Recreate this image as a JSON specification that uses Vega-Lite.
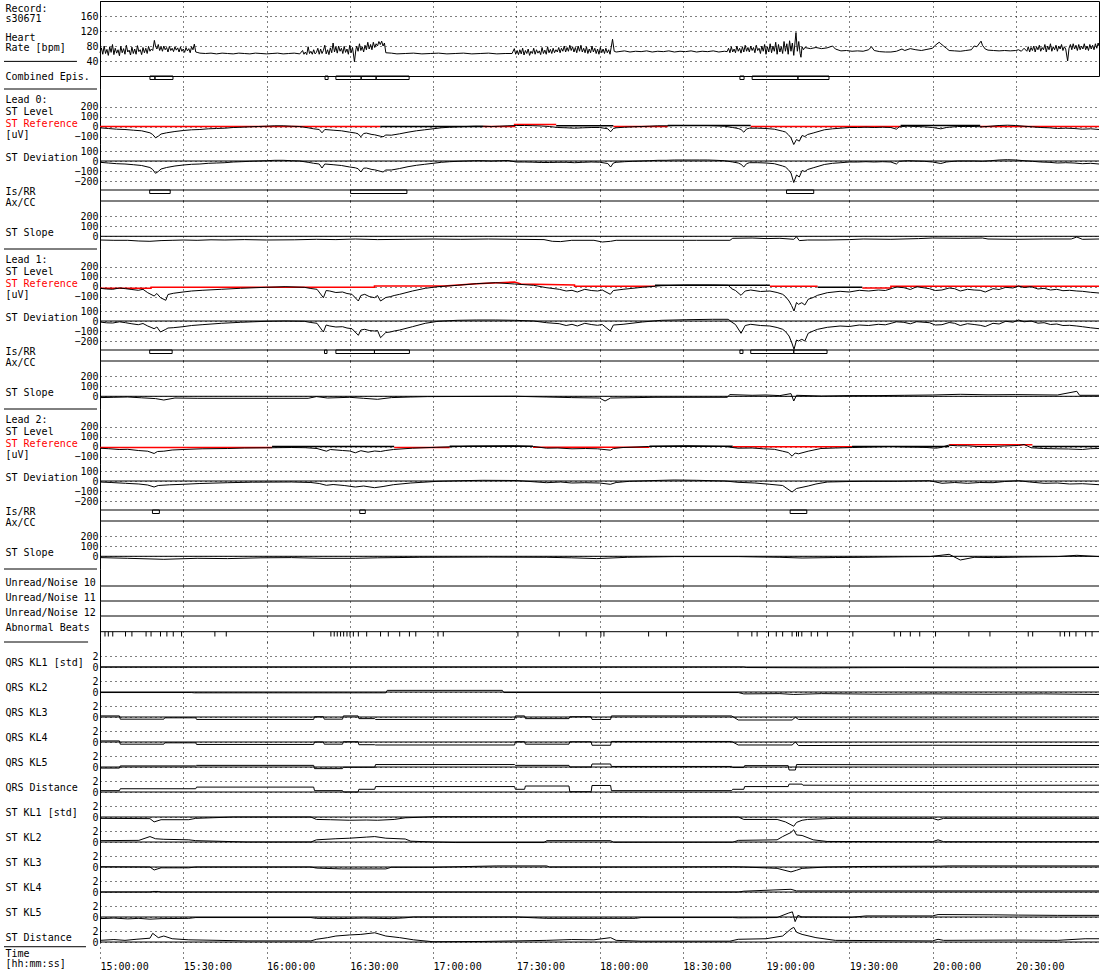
{
"$schema":"https://vega.github.io/schema/vega-lite/v6.json",
"background":"white",
"padding":{"left":3,"top":0,"right":0,"bottom":0},
"spacing":0,
"bounds":"flush",
"datasets":{
"hr":[{"t":0,"v":62},{"t":0.5,"v":75},{"t":1,"v":58},{"t":1.5,"v":80},{"t":2,"v":60},{"t":2.5,"v":71},{"t":3,"v":55},{"t":3.5,"v":78},{"t":4,"v":63},{"t":4.5,"v":84},{"t":5,"v":57},{"t":5.5,"v":74},{"t":6,"v":61},{"t":6.5,"v":70},{"t":7,"v":54},{"t":7.5,"v":79},{"t":8,"v":62},{"t":8.5,"v":73},{"t":9,"v":58},{"t":9.5,"v":82},{"t":10,"v":64},{"t":10.5,"v":69},{"t":11,"v":56},{"t":11.5,"v":77},{"t":12,"v":60},{"t":12.5,"v":72},{"t":13,"v":58},{"t":13.5,"v":81},{"t":14,"v":65},{"t":14.5,"v":70},{"t":15,"v":57},{"t":15.5,"v":76},{"t":16,"v":62},{"t":16.5,"v":74},{"t":17,"v":60},{"t":17.5,"v":79},{"t":18,"v":66},{"t":18.5,"v":72},{"t":19,"v":68},{"t":19.6,"v":95},{"t":20,"v":80},{"t":20.5,"v":72},{"t":21,"v":84},{"t":21.5,"v":68},{"t":22,"v":78},{"t":22.5,"v":66},{"t":23,"v":80},{"t":23.5,"v":70},{"t":24,"v":76},{"t":24.5,"v":64},{"t":25,"v":79},{"t":25.5,"v":68},{"t":26,"v":74},{"t":26.5,"v":65},{"t":27,"v":78},{"t":27.5,"v":69},{"t":28,"v":75},{"t":28.5,"v":64},{"t":29,"v":77},{"t":29.5,"v":66},{"t":30,"v":72},{"t":30.5,"v":63},{"t":31,"v":76},{"t":31.5,"v":67},{"t":32,"v":73},{"t":32.5,"v":62},{"t":33,"v":78},{"t":33.5,"v":70},{"t":34,"v":85},{"t":34.5,"v":64},{"t":35,"v":63},{"t":36,"v":61},{"t":38,"v":60},{"t":40,"v":61},{"t":42,"v":59},{"t":44,"v":61},{"t":46,"v":60},{"t":48,"v":59},{"t":50,"v":61},{"t":52,"v":60},{"t":54,"v":59},{"t":56,"v":61},{"t":58,"v":60},{"t":60,"v":59},{"t":62,"v":60},{"t":64,"v":61},{"t":66,"v":59},{"t":68,"v":60},{"t":70,"v":61},{"t":72,"v":59},{"t":73,"v":68},{"t":73.5,"v":58},{"t":74,"v":64},{"t":74.5,"v":57},{"t":75,"v":78},{"t":75.5,"v":60},{"t":76,"v":66},{"t":76.5,"v":58},{"t":77,"v":70},{"t":77.5,"v":59},{"t":78,"v":63},{"t":78.5,"v":74},{"t":79,"v":58},{"t":79.5,"v":72},{"t":80,"v":60},{"t":80.5,"v":68},{"t":81,"v":82},{"t":81.5,"v":59},{"t":82,"v":70},{"t":82.5,"v":57},{"t":83,"v":75},{"t":83.5,"v":62},{"t":84,"v":88},{"t":84.5,"v":64},{"t":85,"v":78},{"t":85.5,"v":61},{"t":86,"v":80},{"t":86.5,"v":66},{"t":87,"v":74},{"t":87.5,"v":60},{"t":88,"v":79},{"t":88.5,"v":63},{"t":89,"v":72},{"t":89.5,"v":58},{"t":90,"v":82},{"t":90.5,"v":62},{"t":91,"v":76},{"t":91.7,"v":38},{"t":92.2,"v":70},{"t":92.5,"v":80},{"t":93,"v":66},{"t":93.5,"v":86},{"t":94,"v":68},{"t":94.5,"v":78},{"t":95,"v":64},{"t":95.5,"v":82},{"t":96,"v":70},{"t":96.5,"v":90},{"t":97,"v":72},{"t":97.5,"v":84},{"t":98,"v":70},{"t":98.5,"v":90},{"t":99,"v":76},{"t":99.5,"v":86},{"t":100,"v":80},{"t":100.5,"v":92},{"t":101,"v":84},{"t":101.5,"v":93},{"t":102,"v":80},{"t":102.5,"v":88},{"t":103,"v":62},{"t":105,"v":61},{"t":107,"v":59},{"t":110,"v":60},{"t":113,"v":61},{"t":116,"v":59},{"t":119,"v":60},{"t":122,"v":61},{"t":125,"v":59},{"t":128,"v":60},{"t":131,"v":61},{"t":134,"v":59},{"t":137,"v":60},{"t":140,"v":61},{"t":143,"v":59},{"t":146,"v":60},{"t":148.5,"v":60},{"t":149.3,"v":73},{"t":149.8,"v":58},{"t":150.3,"v":68},{"t":150.8,"v":57},{"t":151.3,"v":70},{"t":151.8,"v":59},{"t":152.3,"v":74},{"t":152.8,"v":56},{"t":153.3,"v":68},{"t":153.8,"v":60},{"t":154.3,"v":72},{"t":154.8,"v":55},{"t":155.3,"v":66},{"t":155.8,"v":60},{"t":156.3,"v":74},{"t":156.8,"v":58},{"t":157.3,"v":70},{"t":157.8,"v":61},{"t":158.3,"v":67},{"t":158.8,"v":57},{"t":159.3,"v":76},{"t":159.8,"v":60},{"t":160.3,"v":69},{"t":160.8,"v":58},{"t":161.3,"v":78},{"t":161.8,"v":62},{"t":162.3,"v":71},{"t":162.8,"v":60},{"t":163.3,"v":74},{"t":163.8,"v":62},{"t":164.3,"v":70},{"t":164.8,"v":64},{"t":165.3,"v":76},{"t":165.8,"v":62},{"t":166.3,"v":74},{"t":166.8,"v":66},{"t":167.3,"v":80},{"t":167.8,"v":64},{"t":168.3,"v":76},{"t":168.8,"v":66},{"t":169.3,"v":82},{"t":169.8,"v":68},{"t":170.3,"v":78},{"t":170.8,"v":64},{"t":171.3,"v":76},{"t":171.8,"v":62},{"t":172.3,"v":80},{"t":172.8,"v":66},{"t":173.3,"v":82},{"t":173.8,"v":64},{"t":174.3,"v":74},{"t":174.8,"v":62},{"t":175.3,"v":78},{"t":175.8,"v":60},{"t":176.3,"v":72},{"t":176.8,"v":62},{"t":177.3,"v":80},{"t":177.8,"v":64},{"t":178.3,"v":74},{"t":178.8,"v":60},{"t":179.3,"v":72},{"t":179.8,"v":58},{"t":180.3,"v":76},{"t":180.8,"v":62},{"t":181.3,"v":72},{"t":181.8,"v":60},{"t":182.3,"v":74},{"t":182.8,"v":62},{"t":183.3,"v":70},{"t":183.8,"v":58},{"t":184.7,"v":98},{"t":185.3,"v":66},{"t":186,"v":64},{"t":187,"v":65},{"t":189,"v":67},{"t":191,"v":64},{"t":193,"v":66},{"t":195,"v":65},{"t":197,"v":67},{"t":199,"v":64},{"t":201,"v":66},{"t":203,"v":65},{"t":205,"v":67},{"t":207,"v":64},{"t":209,"v":66},{"t":211,"v":65},{"t":213,"v":67},{"t":215,"v":64},{"t":217,"v":66},{"t":219,"v":65},{"t":221,"v":67},{"t":223,"v":64},{"t":225,"v":66},{"t":226,"v":65},{"t":226.5,"v":74},{"t":227,"v":62},{"t":227.5,"v":78},{"t":228,"v":64},{"t":228.5,"v":72},{"t":229,"v":62},{"t":229.5,"v":80},{"t":230,"v":66},{"t":230.5,"v":74},{"t":231,"v":61},{"t":231.5,"v":78},{"t":232,"v":64},{"t":232.5,"v":82},{"t":233,"v":66},{"t":233.5,"v":76},{"t":234,"v":64},{"t":234.5,"v":80},{"t":235,"v":68},{"t":235.5,"v":76},{"t":236,"v":62},{"t":236.5,"v":82},{"t":237,"v":68},{"t":237.5,"v":74},{"t":238,"v":60},{"t":238.5,"v":80},{"t":239,"v":66},{"t":239.5,"v":84},{"t":240,"v":58},{"t":240.5,"v":78},{"t":241,"v":64},{"t":241.5,"v":86},{"t":242,"v":62},{"t":242.5,"v":80},{"t":243,"v":66},{"t":243.5,"v":90},{"t":244,"v":58},{"t":244.5,"v":84},{"t":245,"v":64},{"t":245.5,"v":78},{"t":246,"v":60},{"t":246.5,"v":92},{"t":247,"v":66},{"t":247.5,"v":86},{"t":248,"v":58},{"t":248.5,"v":94},{"t":249,"v":66},{"t":249.5,"v":88},{"t":250,"v":55},{"t":250.8,"v":116},{"t":251.3,"v":66},{"t":251.8,"v":92},{"t":252.3,"v":60},{"t":252.6,"v":50},{"t":253,"v":78},{"t":253.5,"v":70},{"t":254,"v":76},{"t":256,"v":73},{"t":258,"v":76},{"t":260,"v":73},{"t":262,"v":75},{"t":264,"v":80},{"t":265,"v":72},{"t":267,"v":67},{"t":269,"v":68},{"t":271,"v":66},{"t":273,"v":67},{"t":275,"v":66},{"t":277,"v":70},{"t":278,"v":78},{"t":279,"v":68},{"t":281,"v":65},{"t":283,"v":64},{"t":285,"v":64},{"t":287,"v":66},{"t":289,"v":72},{"t":290,"v":68},{"t":292,"v":73},{"t":294,"v":70},{"t":296,"v":68},{"t":298,"v":71},{"t":300,"v":74},{"t":301,"v":82},{"t":302.4,"v":90},{"t":303,"v":86},{"t":304,"v":80},{"t":305,"v":74},{"t":306,"v":68},{"t":308,"v":67},{"t":310,"v":66},{"t":312,"v":68},{"t":314,"v":70},{"t":315,"v":80},{"t":316,"v":78},{"t":317.5,"v":93},{"t":318,"v":82},{"t":319,"v":72},{"t":320,"v":69},{"t":322,"v":68},{"t":324,"v":67},{"t":326,"v":68},{"t":328,"v":67},{"t":330,"v":68},{"t":331,"v":70},{"t":332,"v":66},{"t":333,"v":74},{"t":334,"v":66},{"t":334.5,"v":78},{"t":335,"v":64},{"t":335.5,"v":76},{"t":336,"v":68},{"t":336.5,"v":80},{"t":337,"v":64},{"t":337.5,"v":78},{"t":338,"v":70},{"t":338.5,"v":82},{"t":339,"v":66},{"t":339.5,"v":76},{"t":340,"v":70},{"t":340.5,"v":84},{"t":341,"v":64},{"t":341.5,"v":80},{"t":342,"v":70},{"t":342.5,"v":86},{"t":343,"v":66},{"t":343.5,"v":78},{"t":344,"v":70},{"t":344.5,"v":82},{"t":345,"v":66},{"t":345.5,"v":80},{"t":346,"v":72},{"t":346.5,"v":84},{"t":347,"v":68},{"t":347.5,"v":78},{"t":348,"v":72},{"t":348.7,"v":40},{"t":349.2,"v":74},{"t":349.7,"v":84},{"t":350.2,"v":70},{"t":350.7,"v":86},{"t":351.2,"v":72},{"t":351.7,"v":82},{"t":352.2,"v":68},{"t":352.7,"v":84},{"t":353.2,"v":70},{"t":353.7,"v":80},{"t":354.2,"v":72},{"t":354.7,"v":86},{"t":355.2,"v":70},{"t":355.7,"v":80},{"t":356.2,"v":68},{"t":356.7,"v":84},{"t":357.2,"v":72},{"t":357.7,"v":82},{"t":358.2,"v":70},{"t":358.7,"v":86},{"t":359.2,"v":74},{"t":359.7,"v":88},{"t":360,"v":80}],
"l0":[{"t":0,"v":-13},{"t":3,"v":-20},{"t":6,"v":-27},{"t":9,"v":-30},{"t":12,"v":-37},{"t":15,"v":-43},{"t":18,"v":-63},{"t":19,"v":-80},{"t":20,"v":-113},{"t":21,"v":-97},{"t":22,"v":-75},{"t":24,"v":-63},{"t":27,"v":-50},{"t":30,"v":-40},{"t":33,"v":-33},{"t":36,"v":-30},{"t":39,"v":-23},{"t":42,"v":-20},{"t":45,"v":-17},{"t":48,"v":-10},{"t":51,"v":-7},{"t":54,"v":-3},{"t":57,"v":0},{"t":60,"v":3},{"t":63,"v":7},{"t":66,"v":7},{"t":69,"v":3},{"t":72,"v":0},{"t":75,"v":-13},{"t":77,"v":-23},{"t":79,"v":-30},{"t":80,"v":-63},{"t":81,"v":-30},{"t":84,"v":-37},{"t":87,"v":-43},{"t":90,"v":-57},{"t":92,"v":-65},{"t":93,"v":-73},{"t":94,"v":-103},{"t":95,"v":-70},{"t":96,"v":-66},{"t":98,"v":-80},{"t":99,"v":-83},{"t":101,"v":-97},{"t":102,"v":-103},{"t":103,"v":-85},{"t":105,"v":-87},{"t":108,"v":-73},{"t":111,"v":-57},{"t":114,"v":-43},{"t":117,"v":-33},{"t":120,"v":-23},{"t":123,"v":-13},{"t":126,"v":-7},{"t":129,"v":-3},{"t":132,"v":0},{"t":135,"v":3},{"t":138,"v":3},{"t":141,"v":0},{"t":144,"v":3},{"t":147,"v":7},{"t":150,"v":10},{"t":153,"v":10},{"t":156,"v":8},{"t":159,"v":5},{"t":162,"v":0},{"t":165,"v":-10},{"t":168,"v":-13},{"t":171,"v":-17},{"t":174,"v":-13},{"t":177,"v":-10},{"t":180,"v":-10},{"t":183,"v":-23},{"t":184,"v":-53},{"t":185,"v":-20},{"t":186,"v":-13},{"t":189,"v":-7},{"t":192,"v":-3},{"t":195,"v":0},{"t":198,"v":3},{"t":201,"v":7},{"t":204,"v":7},{"t":207,"v":10},{"t":210,"v":10},{"t":213,"v":10},{"t":216,"v":10},{"t":219,"v":10},{"t":222,"v":7},{"t":225,"v":3},{"t":228,"v":-10},{"t":230,"v":-20},{"t":231,"v":-30},{"t":232,"v":-57},{"t":233,"v":-25},{"t":234,"v":-17},{"t":237,"v":-17},{"t":240,"v":-20},{"t":243,"v":-27},{"t":246,"v":-47},{"t":247,"v":-55},{"t":248,"v":-80},{"t":249,"v":-113},{"t":250,"v":-180},{"t":251,"v":-130},{"t":252,"v":-147},{"t":253,"v":-90},{"t":254,"v":-100},{"t":255,"v":-80},{"t":257,"v":-65},{"t":258,"v":-57},{"t":261,"v":-33},{"t":264,"v":-23},{"t":267,"v":-17},{"t":270,"v":-10},{"t":273,"v":-10},{"t":276,"v":-7},{"t":279,"v":-10},{"t":282,"v":-7},{"t":285,"v":-10},{"t":287,"v":-27},{"t":288,"v":-3},{"t":291,"v":3},{"t":294,"v":0},{"t":297,"v":-3},{"t":300,"v":-10},{"t":303,"v":-23},{"t":305,"v":-10},{"t":306,"v":-7},{"t":309,"v":0},{"t":312,"v":0},{"t":315,"v":0},{"t":318,"v":-3},{"t":321,"v":3},{"t":324,"v":10},{"t":327,"v":13},{"t":330,"v":10},{"t":333,"v":3},{"t":336,"v":-3},{"t":339,"v":-10},{"t":342,"v":-13},{"t":345,"v":-20},{"t":348,"v":-17},{"t":351,"v":-20},{"t":354,"v":-27},{"t":357,"v":-23},{"t":360,"v":-30}],
"d0":[{"t":0,"v":-13},{"t":3,"v":-20},{"t":6,"v":-27},{"t":9,"v":-30},{"t":12,"v":-37},{"t":15,"v":-45},{"t":18,"v":-65},{"t":19,"v":-85},{"t":20,"v":-123},{"t":21,"v":-105},{"t":22,"v":-80},{"t":24,"v":-65},{"t":27,"v":-50},{"t":30,"v":-40},{"t":33,"v":-33},{"t":36,"v":-30},{"t":39,"v":-23},{"t":42,"v":-20},{"t":45,"v":-17},{"t":48,"v":-10},{"t":51,"v":-7},{"t":54,"v":-3},{"t":57,"v":0},{"t":60,"v":3},{"t":63,"v":7},{"t":66,"v":7},{"t":69,"v":3},{"t":72,"v":0},{"t":75,"v":-13},{"t":77,"v":-23},{"t":79,"v":-30},{"t":80,"v":-70},{"t":81,"v":-30},{"t":84,"v":-37},{"t":87,"v":-45},{"t":90,"v":-60},{"t":92,"v":-68},{"t":93,"v":-77},{"t":94,"v":-110},{"t":95,"v":-72},{"t":96,"v":-70},{"t":98,"v":-85},{"t":99,"v":-88},{"t":101,"v":-103},{"t":102,"v":-110},{"t":103,"v":-90},{"t":105,"v":-90},{"t":108,"v":-75},{"t":111,"v":-57},{"t":114,"v":-43},{"t":117,"v":-33},{"t":120,"v":-23},{"t":123,"v":-13},{"t":126,"v":-7},{"t":129,"v":-3},{"t":132,"v":0},{"t":135,"v":3},{"t":138,"v":3},{"t":141,"v":0},{"t":144,"v":3},{"t":147,"v":5},{"t":150,"v":-10},{"t":153,"v":-10},{"t":156,"v":-12},{"t":159,"v":-15},{"t":162,"v":-15},{"t":165,"v":-13},{"t":168,"v":-13},{"t":171,"v":-17},{"t":174,"v":-13},{"t":177,"v":-10},{"t":180,"v":-12},{"t":183,"v":-25},{"t":184,"v":-60},{"t":185,"v":-20},{"t":186,"v":-13},{"t":189,"v":-7},{"t":192,"v":-3},{"t":195,"v":0},{"t":198,"v":3},{"t":201,"v":7},{"t":204,"v":7},{"t":207,"v":10},{"t":210,"v":10},{"t":213,"v":10},{"t":216,"v":10},{"t":219,"v":10},{"t":222,"v":7},{"t":225,"v":3},{"t":228,"v":-10},{"t":230,"v":-20},{"t":231,"v":-33},{"t":232,"v":-60},{"t":233,"v":-27},{"t":234,"v":-17},{"t":237,"v":-17},{"t":240,"v":-20},{"t":243,"v":-27},{"t":246,"v":-50},{"t":247,"v":-60},{"t":248,"v":-85},{"t":249,"v":-120},{"t":250,"v":-215},{"t":251,"v":-140},{"t":252,"v":-160},{"t":253,"v":-95},{"t":254,"v":-105},{"t":255,"v":-85},{"t":257,"v":-68},{"t":258,"v":-60},{"t":261,"v":-35},{"t":264,"v":-23},{"t":267,"v":-17},{"t":270,"v":-10},{"t":273,"v":-10},{"t":276,"v":-7},{"t":279,"v":-10},{"t":282,"v":-7},{"t":285,"v":-10},{"t":287,"v":-30},{"t":288,"v":-3},{"t":291,"v":3},{"t":294,"v":0},{"t":297,"v":-3},{"t":300,"v":-10},{"t":303,"v":-25},{"t":305,"v":-10},{"t":306,"v":-7},{"t":309,"v":0},{"t":312,"v":0},{"t":315,"v":0},{"t":318,"v":-3},{"t":321,"v":3},{"t":324,"v":10},{"t":327,"v":13},{"t":330,"v":10},{"t":333,"v":3},{"t":336,"v":-3},{"t":339,"v":-10},{"t":342,"v":-13},{"t":345,"v":-20},{"t":348,"v":-17},{"t":351,"v":-20},{"t":354,"v":-27},{"t":357,"v":-23},{"t":360,"v":-30}],
"r0":[{"t":0,"v":0,"g":1,"k":"r"},{"t":101,"v":0,"g":1,"k":"r"},{"t":101,"v":0,"g":2,"k":"b"},{"t":138,"v":0,"g":2,"k":"b"},{"t":138,"v":0,"g":3,"k":"r"},{"t":149.4,"v":0,"g":3,"k":"r"},{"t":149.4,"v":20,"g":3,"k":"r"},{"t":164.4,"v":20,"g":3,"k":"r"},{"t":164.4,"v":7,"g":4,"k":"b"},{"t":185,"v":7,"g":4,"k":"b"},{"t":185,"v":0,"g":5,"k":"r"},{"t":204.6,"v":0,"g":5,"k":"r"},{"t":204.6,"v":10,"g":6,"k":"b"},{"t":234.5,"v":10,"g":6,"k":"b"},{"t":234.5,"v":0,"g":7,"k":"r"},{"t":288.5,"v":0,"g":7,"k":"r"},{"t":288.5,"v":10,"g":8,"k":"b"},{"t":317.2,"v":10,"g":8,"k":"b"},{"t":317.2,"v":0,"g":9,"k":"r"},{"t":360,"v":0,"g":9,"k":"r"}],
"s0":[{"t":0,"v":-37},{"t":5,"v":-40},{"t":10,"v":-40},{"t":14,"v":-47},{"t":18,"v":-50},{"t":22,"v":-43},{"t":26,"v":-40},{"t":30,"v":-37},{"t":35,"v":-40},{"t":40,"v":-35},{"t":45,"v":-37},{"t":52,"v":-33},{"t":60,"v":-37},{"t":70,"v":-35},{"t":78,"v":-30},{"t":85,"v":-33},{"t":92,"v":-27},{"t":100,"v":-33},{"t":110,"v":-30},{"t":120,"v":-27},{"t":130,"v":-30},{"t":140,"v":-27},{"t":150,"v":-30},{"t":160,"v":-33},{"t":163,"v":-50},{"t":166,"v":-53},{"t":170,"v":-40},{"t":178,"v":-40},{"t":181,"v":-57},{"t":184,"v":-50},{"t":186,"v":-40},{"t":200,"v":-40},{"t":215,"v":-40},{"t":227,"v":-40},{"t":228,"v":-20},{"t":235,"v":-17},{"t":240,"v":-23},{"t":245,"v":-20},{"t":250,"v":-30},{"t":251,"v":-5},{"t":252,"v":-43},{"t":255,"v":-37},{"t":262,"v":-37},{"t":270,"v":-33},{"t":275,"v":-27},{"t":285,"v":-30},{"t":295,"v":-23},{"t":300,"v":-17},{"t":310,"v":-20},{"t":318,"v":-17},{"t":320,"v":-27},{"t":330,"v":-30},{"t":340,"v":-27},{"t":350,"v":-27},{"t":352,"v":-7},{"t":354,"v":-30},{"t":360,"v":-27}],
"l1":[{"t":0,"v":-18},{"t":2.3,"v":-25},{"t":4.6,"v":-28},{"t":7,"v":-15},{"t":9.2,"v":-22},{"t":11.5,"v":-30},{"t":13.8,"v":-38},{"t":15.5,"v":-28},{"t":17.2,"v":-62},{"t":19.5,"v":-95},{"t":20.5,"v":-70},{"t":21.8,"v":-112},{"t":23.7,"v":-138},{"t":24.5,"v":-80},{"t":26.4,"v":-68},{"t":29.9,"v":-55},{"t":33,"v":-45},{"t":36.8,"v":-38},{"t":43.7,"v":-28},{"t":50.6,"v":-18},{"t":59.8,"v":-8},{"t":66.7,"v":-2},{"t":73.6,"v":-8},{"t":76,"v":-20},{"t":78.2,"v":-28},{"t":80.5,"v":-112},{"t":81.5,"v":-40},{"t":82.8,"v":-45},{"t":85,"v":-60},{"t":87.4,"v":-55},{"t":89,"v":-70},{"t":90.8,"v":-78},{"t":93.1,"v":-145},{"t":94,"v":-90},{"t":95.4,"v":-78},{"t":97,"v":-100},{"t":98.9,"v":-112},{"t":100,"v":-90},{"t":101.1,"v":-145},{"t":103,"v":-110},{"t":104.6,"v":-102},{"t":106,"v":-90},{"t":108,"v":-78},{"t":112.6,"v":-45},{"t":117.2,"v":-18},{"t":121.8,"v":-2},{"t":128.7,"v":12},{"t":135.6,"v":28},{"t":142.5,"v":38},{"t":149.4,"v":25},{"t":156.3,"v":12},{"t":160.9,"v":-12},{"t":165.5,"v":-28},{"t":168,"v":-45},{"t":170.1,"v":-38},{"t":172,"v":-55},{"t":174.7,"v":-28},{"t":177,"v":-40},{"t":179.3,"v":-45},{"t":181,"v":-35},{"t":183.9,"v":-78},{"t":185,"v":-40},{"t":188.5,"v":-28},{"t":195.4,"v":-8},{"t":202.3,"v":8},{"t":211.5,"v":15},{"t":220.7,"v":15},{"t":226.4,"v":12},{"t":227.6,"v":-22},{"t":229,"v":-40},{"t":231,"v":-88},{"t":232.5,"v":-45},{"t":234.5,"v":-35},{"t":238,"v":-50},{"t":241.4,"v":-45},{"t":244,"v":-60},{"t":246,"v":-78},{"t":247,"v":-100},{"t":248.3,"v":-145},{"t":249.2,"v":-190},{"t":250.1,"v":-245},{"t":251,"v":-160},{"t":251.7,"v":-178},{"t":252.9,"v":-162},{"t":254,"v":-185},{"t":255.2,"v":-128},{"t":257,"v":-110},{"t":258.6,"v":-88},{"t":262.1,"v":-62},{"t":266.7,"v":-48},{"t":270,"v":-55},{"t":273.6,"v":-38},{"t":277,"v":-45},{"t":280.5,"v":-35},{"t":283,"v":-40},{"t":285.1,"v":-22},{"t":287,"v":-5},{"t":289.7,"v":-12},{"t":292,"v":-30},{"t":294.3,"v":-2},{"t":298.9,"v":-22},{"t":301,"v":-40},{"t":303.4,"v":-35},{"t":306,"v":-15},{"t":308,"v":-22},{"t":310,"v":-45},{"t":312.6,"v":-28},{"t":315,"v":-35},{"t":317.2,"v":-38},{"t":319,"v":-55},{"t":321.8,"v":-22},{"t":324,"v":-30},{"t":326.4,"v":-8},{"t":329,"v":-15},{"t":331,"v":5},{"t":333,"v":-10},{"t":335.6,"v":-2},{"t":338,"v":-25},{"t":340.2,"v":-18},{"t":342.5,"v":-35},{"t":344.8,"v":-28},{"t":347,"v":-42},{"t":349.4,"v":-38},{"t":352,"v":-45},{"t":354,"v":-48},{"t":357,"v":-58},{"t":360,"v":-65}],
"d1":[{"t":0,"v":-10},{"t":2.3,"v":-18},{"t":4.6,"v":-20},{"t":7,"v":-8},{"t":9.2,"v":-17},{"t":11.5,"v":-28},{"t":13.8,"v":-37},{"t":15.5,"v":-25},{"t":17.2,"v":-50},{"t":19.5,"v":-77},{"t":20.5,"v":-60},{"t":21.8,"v":-110},{"t":23.7,"v":-83},{"t":24.5,"v":-70},{"t":26.4,"v":-67},{"t":29.9,"v":-57},{"t":33,"v":-45},{"t":36.8,"v":-37},{"t":43.7,"v":-23},{"t":50.6,"v":-13},{"t":59.8,"v":-3},{"t":66.7,"v":0},{"t":73.6,"v":-3},{"t":76,"v":-15},{"t":78.2,"v":-23},{"t":80.5,"v":-110},{"t":81.5,"v":-40},{"t":82.8,"v":-50},{"t":85,"v":-60},{"t":87.4,"v":-57},{"t":89,"v":-70},{"t":90.8,"v":-77},{"t":93.1,"v":-143},{"t":94,"v":-90},{"t":95.4,"v":-83},{"t":97,"v":-95},{"t":98.9,"v":-100},{"t":100,"v":-95},{"t":101.1,"v":-167},{"t":103,"v":-115},{"t":104.6,"v":-110},{"t":106,"v":-100},{"t":108,"v":-90},{"t":112.6,"v":-57},{"t":117.2,"v":-23},{"t":121.8,"v":-3},{"t":128.7,"v":7},{"t":135.6,"v":10},{"t":142.5,"v":10},{"t":149.4,"v":7},{"t":156.3,"v":0},{"t":160.9,"v":-17},{"t":165.5,"v":-27},{"t":168,"v":-45},{"t":170.1,"v":-33},{"t":172,"v":-50},{"t":174.7,"v":-23},{"t":177,"v":-35},{"t":179.3,"v":-43},{"t":181,"v":-35},{"t":183.9,"v":-100},{"t":185,"v":-40},{"t":188.5,"v":-33},{"t":195.4,"v":-10},{"t":202.3,"v":7},{"t":211.5,"v":13},{"t":220.7,"v":17},{"t":226.4,"v":17},{"t":227.6,"v":-10},{"t":229,"v":-35},{"t":231,"v":-123},{"t":232.5,"v":-45},{"t":234.5,"v":-33},{"t":238,"v":-45},{"t":241.4,"v":-50},{"t":244,"v":-65},{"t":246,"v":-83},{"t":247,"v":-105},{"t":248.3,"v":-150},{"t":249.2,"v":-210},{"t":250.1,"v":-283},{"t":251,"v":-190},{"t":251.7,"v":-200},{"t":252.9,"v":-183},{"t":254,"v":-200},{"t":255.2,"v":-123},{"t":257,"v":-100},{"t":258.6,"v":-83},{"t":262.1,"v":-63},{"t":266.7,"v":-50},{"t":270,"v":-55},{"t":273.6,"v":-40},{"t":277,"v":-45},{"t":280.5,"v":-33},{"t":283,"v":-38},{"t":285.1,"v":-23},{"t":287,"v":-8},{"t":289.7,"v":-13},{"t":292,"v":-28},{"t":294.3,"v":-7},{"t":298.9,"v":-17},{"t":301,"v":-40},{"t":303.4,"v":-37},{"t":306,"v":-15},{"t":308,"v":-23},{"t":310,"v":-45},{"t":312.6,"v":-27},{"t":315,"v":-35},{"t":317.2,"v":-43},{"t":319,"v":-55},{"t":321.8,"v":-23},{"t":324,"v":-30},{"t":326.4,"v":-3},{"t":329,"v":-12},{"t":331,"v":10},{"t":333,"v":-8},{"t":335.6,"v":0},{"t":338,"v":-22},{"t":340.2,"v":-17},{"t":342.5,"v":-35},{"t":344.8,"v":-30},{"t":347,"v":-45},{"t":349.4,"v":-43},{"t":352,"v":-50},{"t":354,"v":-57},{"t":357,"v":-68},{"t":360,"v":-77}],
"r1":[{"t":0,"v":-18,"g":1,"k":"r"},{"t":18.4,"v":-18,"g":1,"k":"r"},{"t":18.4,"v":-8,"g":1,"k":"r"},{"t":98.9,"v":-8,"g":1,"k":"r"},{"t":98.9,"v":5,"g":1,"k":"r"},{"t":124,"v":5,"g":1,"k":"r"},{"t":135.6,"v":28,"g":1,"k":"r"},{"t":149.4,"v":45,"g":1,"k":"r"},{"t":151.7,"v":25,"g":1,"k":"r"},{"t":171,"v":15,"g":1,"k":"r"},{"t":171,"v":2,"g":1,"k":"r"},{"t":200,"v":2,"g":1,"k":"r"},{"t":200,"v":12,"g":2,"k":"b"},{"t":241.4,"v":12,"g":2,"k":"b"},{"t":241.4,"v":2,"g":3,"k":"r"},{"t":258.6,"v":2,"g":3,"k":"r"},{"t":258.6,"v":-8,"g":4,"k":"b"},{"t":274.7,"v":-8,"g":4,"k":"b"},{"t":274.7,"v":-15,"g":5,"k":"r"},{"t":285,"v":-15,"g":5,"k":"r"},{"t":285,"v":2,"g":5,"k":"r"},{"t":360,"v":2,"g":5,"k":"r"}],
"s1":[{"t":0,"v":-13},{"t":5,"v":-10},{"t":10,"v":-7},{"t":15,"v":-15},{"t":20,"v":-23},{"t":23,"v":-37},{"t":27,"v":-17},{"t":35,"v":-20},{"t":75,"v":-20},{"t":78,"v":-3},{"t":82,"v":-17},{"t":90,"v":-10},{"t":95,"v":-20},{"t":100,"v":-30},{"t":105,"v":-13},{"t":112,"v":-7},{"t":118,"v":-3},{"t":150,"v":0},{"t":161,"v":-7},{"t":170,"v":-13},{"t":180,"v":-17},{"t":182,"v":-47},{"t":184,"v":-17},{"t":200,"v":-10},{"t":226,"v":-10},{"t":227,"v":17},{"t":235,"v":10},{"t":240,"v":13},{"t":245,"v":7},{"t":249,"v":27},{"t":250,"v":-47},{"t":251,"v":10},{"t":260,"v":3},{"t":270,"v":7},{"t":280,"v":7},{"t":290,"v":10},{"t":300,"v":13},{"t":310,"v":20},{"t":320,"v":15},{"t":330,"v":17},{"t":345,"v":13},{"t":352,"v":50},{"t":353,"v":10},{"t":360,"v":10}],
"l2":[{"t":0,"v":-17},{"t":3,"v":-22},{"t":6.9,"v":-30},{"t":10,"v":-28},{"t":13.8,"v":-40},{"t":17.2,"v":-47},{"t":19.5,"v":-70},{"t":20.7,"v":-50},{"t":23,"v":-47},{"t":26,"v":-35},{"t":29.9,"v":-30},{"t":36.8,"v":-23},{"t":46,"v":-20},{"t":52,"v":-15},{"t":59.8,"v":-13},{"t":69,"v":-10},{"t":74,"v":-12},{"t":78.2,"v":-20},{"t":81.6,"v":-47},{"t":83,"v":-30},{"t":87.4,"v":-40},{"t":90,"v":-45},{"t":92,"v":-63},{"t":94,"v":-42},{"t":96.6,"v":-57},{"t":99,"v":-45},{"t":101.1,"v":-50},{"t":103,"v":-40},{"t":105.7,"v":-30},{"t":112.6,"v":-17},{"t":121.8,"v":-7},{"t":133.3,"v":3},{"t":149.4,"v":7},{"t":156.3,"v":0},{"t":160.9,"v":-17},{"t":165,"v":-15},{"t":170.1,"v":-23},{"t":175,"v":-20},{"t":179.3,"v":-23},{"t":183.9,"v":-37},{"t":185,"v":-20},{"t":188.5,"v":-10},{"t":197.7,"v":0},{"t":211.5,"v":7},{"t":225.3,"v":0},{"t":229.9,"v":-17},{"t":235,"v":-15},{"t":239.1,"v":-23},{"t":243,"v":-28},{"t":246,"v":-47},{"t":248,"v":-60},{"t":249.4,"v":-97},{"t":250.5,"v":-65},{"t":251.7,"v":-73},{"t":255.2,"v":-47},{"t":259.8,"v":-20},{"t":265,"v":-15},{"t":271.3,"v":-10},{"t":278,"v":-5},{"t":285.1,"v":0},{"t":290,"v":-5},{"t":294.3,"v":-7},{"t":298,"v":-10},{"t":301.1,"v":-17},{"t":303,"v":-10},{"t":305.7,"v":13},{"t":309,"v":7},{"t":312.6,"v":7},{"t":316,"v":0},{"t":321.8,"v":0},{"t":326,"v":5},{"t":331,"v":10},{"t":333,"v":20},{"t":335.6,"v":-13},{"t":340,"v":-20},{"t":344.8,"v":-23},{"t":349,"v":-25},{"t":354,"v":-30},{"t":357,"v":-22},{"t":360,"v":-20}],
"d2":[{"t":0,"v":-10},{"t":4,"v":-15},{"t":9.2,"v":-23},{"t":14,"v":-30},{"t":17.2,"v":-40},{"t":19.5,"v":-60},{"t":21,"v":-45},{"t":25,"v":-38},{"t":29.9,"v":-33},{"t":36,"v":-25},{"t":46,"v":-17},{"t":55,"v":-12},{"t":69,"v":-10},{"t":76,"v":-15},{"t":79,"v":-25},{"t":81.6,"v":-43},{"t":84,"v":-35},{"t":88,"v":-45},{"t":92,"v":-60},{"t":95,"v":-50},{"t":98.9,"v":-67},{"t":102,"v":-55},{"t":105.7,"v":-37},{"t":112,"v":-20},{"t":121.8,"v":-3},{"t":130,"v":3},{"t":137.9,"v":7},{"t":150,"v":5},{"t":160.9,"v":-17},{"t":166,"v":-10},{"t":170,"v":-20},{"t":174.7,"v":-17},{"t":180,"v":-20},{"t":183.9,"v":-33},{"t":186,"v":-15},{"t":190.8,"v":-3},{"t":200,"v":5},{"t":206.9,"v":10},{"t":215,"v":7},{"t":225.3,"v":0},{"t":229.9,"v":-13},{"t":236,"v":-20},{"t":241.4,"v":-33},{"t":246,"v":-45},{"t":249.4,"v":-110},{"t":251,"v":-75},{"t":255.2,"v":-50},{"t":258,"v":-30},{"t":262.1,"v":-10},{"t":270,"v":-5},{"t":275.9,"v":-3},{"t":287.4,"v":-3},{"t":298.9,"v":3},{"t":303.4,"v":-23},{"t":308,"v":-15},{"t":312.6,"v":-23},{"t":317,"v":-15},{"t":321.8,"v":-17},{"t":326,"v":-5},{"t":331,"v":3},{"t":335,"v":-10},{"t":340.2,"v":-23},{"t":345,"v":-20},{"t":349.4,"v":-30},{"t":354,"v":-27},{"t":360,"v":-37}],
"r2":[{"t":0,"v":-10,"g":1,"k":"r"},{"t":62,"v":-10,"g":1,"k":"r"},{"t":62,"v":0,"g":2,"k":"b"},{"t":106,"v":0,"g":2,"k":"b"},{"t":106,"v":-10,"g":3,"k":"r"},{"t":126,"v":-10,"g":3,"k":"r"},{"t":126,"v":3,"g":4,"k":"b"},{"t":156,"v":3,"g":4,"k":"b"},{"t":156,"v":-7,"g":5,"k":"r"},{"t":198,"v":-7,"g":5,"k":"r"},{"t":198,"v":3,"g":6,"k":"b"},{"t":228,"v":3,"g":6,"k":"b"},{"t":228,"v":-3,"g":7,"k":"r"},{"t":271,"v":-3,"g":7,"k":"r"},{"t":271,"v":0,"g":8,"k":"b"},{"t":306,"v":0,"g":8,"k":"b"},{"t":306,"v":17,"g":9,"k":"r"},{"t":336,"v":17,"g":9,"k":"r"},{"t":336,"v":0,"g":10,"k":"b"},{"t":360,"v":0,"g":10,"k":"b"}],
"s2":[{"t":0,"v":-13},{"t":10,"v":-20},{"t":23,"v":-30},{"t":35,"v":-20},{"t":46,"v":-23},{"t":58,"v":-15},{"t":69,"v":-13},{"t":80,"v":-20},{"t":92,"v":-20},{"t":100,"v":-15},{"t":115,"v":-10},{"t":140,"v":-8},{"t":161,"v":-10},{"t":170,"v":-15},{"t":179,"v":-23},{"t":190,"v":-10},{"t":207,"v":-3},{"t":230,"v":-3},{"t":245,"v":-10},{"t":253,"v":-17},{"t":265,"v":-12},{"t":276,"v":-10},{"t":290,"v":-5},{"t":299,"v":-3},{"t":306,"v":20},{"t":310,"v":-37},{"t":315,"v":-10},{"t":322,"v":-13},{"t":333,"v":-7},{"t":345,"v":-3},{"t":352,"v":10},{"t":360,"v":-3}],
"ep":[{"p":"c","a":18,"b":19.8},{"p":"c","a":19.8,"b":26.3},{"p":"c","a":81.1,"b":82.2},{"p":"c","a":85,"b":94.1},{"p":"c","a":94.1,"b":99.5},{"p":"c","a":99.5,"b":111.4},{"p":"c","a":230.6,"b":232.1},{"p":"c","a":235,"b":251.5},{"p":"c","a":251.5,"b":262.7},{"p":"0","a":17.9,"b":25.3},{"p":"0","a":90.3,"b":110.6},{"p":"0","a":247.4,"b":257.2},{"p":"1","a":17.9,"b":26},{"p":"1","a":80.9,"b":81.8},{"p":"1","a":85,"b":98.9},{"p":"1","a":98.9,"b":111.5},{"p":"1","a":230.6,"b":231.7},{"p":"1","a":234.5,"b":250},{"p":"1","a":250,"b":262},{"p":"2","a":18.9,"b":21.4},{"p":"2","a":93.6,"b":95.6},{"p":"2","a":248.7,"b":254.7}],
"ab":[{"t":1.8},{"t":3},{"t":4.6},{"t":9.2},{"t":11.5},{"t":16.6},{"t":18.4},{"t":21.8},{"t":24.1},{"t":26.4},{"t":29.4},{"t":41.4},{"t":45.5},{"t":77},{"t":83.2},{"t":84.4},{"t":85.5},{"t":86.7},{"t":87.8},{"t":89},{"t":90.1},{"t":91.3},{"t":93.1},{"t":96.1},{"t":101.1},{"t":103.9},{"t":108},{"t":111.5},{"t":113.8},{"t":121.8},{"t":123.7},{"t":150.6},{"t":165.5},{"t":175.2},{"t":180.5},{"t":181.6},{"t":197.7},{"t":204.1},{"t":229.9},{"t":234.9},{"t":236.8},{"t":240.9},{"t":243.7},{"t":246},{"t":249.4},{"t":251},{"t":251.7},{"t":252.9},{"t":256.3},{"t":258.6},{"t":262.1},{"t":271.3},{"t":286.2},{"t":288.5},{"t":292},{"t":295.4},{"t":301.1},{"t":313.1},{"t":320.7},{"t":334.5},{"t":336.1},{"t":346},{"t":347.6},{"t":349.4},{"t":351.7},{"t":355.2},{"t":357.5}],
"kl":[
{"k":"q1","t":0,"v":0},{"k":"q1","t":232,"v":0},{"k":"q1","t":233,"v":-0.1},{"k":"q1","t":260,"v":-0.15},{"k":"q1","t":290,"v":-0.1},{"k":"q1","t":320,"v":-0.15},{"k":"q1","t":360,"v":-0.1},
{"k":"q2","t":0,"v":-0.1},{"k":"q2","t":33,"v":-0.1},{"k":"q2","t":34,"v":-0.15},{"k":"q2","t":103,"v":-0.15},{"k":"q2","t":103.5,"v":0.3},{"k":"q2","t":145,"v":0.3},{"k":"q2","t":145.5,"v":-0.1},{"k":"q2","t":230,"v":-0.1},{"k":"q2","t":232,"v":-0.35},{"k":"q2","t":245,"v":-0.3},{"k":"q2","t":250,"v":-0.45},{"k":"q2","t":260,"v":-0.3},{"k":"q2","t":280,"v":-0.4},{"k":"q2","t":300,"v":-0.35},{"k":"q2","t":320,"v":-0.4},{"k":"q2","t":340,"v":-0.35},{"k":"q2","t":360,"v":-0.45},
{"k":"q3","t":0,"v":0.2},{"k":"q3","t":7,"v":0.2},{"k":"q3","t":7.3,"v":-0.4},{"k":"q3","t":23,"v":-0.4},{"k":"q3","t":23.3,"v":-0.15},{"k":"q3","t":34.5,"v":-0.15},{"k":"q3","t":34.8,"v":-0.45},{"k":"q3","t":77,"v":-0.45},{"k":"q3","t":77.3,"v":0.05},{"k":"q3","t":80.5,"v":0.05},{"k":"q3","t":80.8,"v":-0.4},{"k":"q3","t":87.4,"v":-0.4},{"k":"q3","t":87.7,"v":0.2},{"k":"q3","t":93,"v":0.2},{"k":"q3","t":93.3,"v":-0.3},{"k":"q3","t":99,"v":-0.3},{"k":"q3","t":99.3,"v":-0.45},{"k":"q3","t":149.4,"v":-0.45},{"k":"q3","t":149.7,"v":0.2},{"k":"q3","t":153,"v":0.2},{"k":"q3","t":153.3,"v":-0.3},{"k":"q3","t":169,"v":-0.3},{"k":"q3","t":169.3,"v":0.05},{"k":"q3","t":177,"v":0.05},{"k":"q3","t":177.3,"v":-0.45},{"k":"q3","t":184,"v":-0.45},{"k":"q3","t":184.3,"v":0.2},{"k":"q3","t":227.6,"v":0.2},{"k":"q3","t":230,"v":-0.55},{"k":"q3","t":249.4,"v":-0.55},{"k":"q3","t":250.6,"v":-0.05},{"k":"q3","t":251.7,"v":-0.45},{"k":"q3","t":300,"v":-0.4},{"k":"q3","t":360,"v":-0.45},
{"k":"q4","t":0,"v":0.2},{"k":"q4","t":7,"v":0.2},{"k":"q4","t":7.3,"v":-0.4},{"k":"q4","t":23,"v":-0.4},{"k":"q4","t":23.3,"v":-0.15},{"k":"q4","t":34.5,"v":-0.15},{"k":"q4","t":34.8,"v":-0.45},{"k":"q4","t":77,"v":-0.45},{"k":"q4","t":77.3,"v":0},{"k":"q4","t":80.5,"v":0},{"k":"q4","t":80.8,"v":-0.4},{"k":"q4","t":87.4,"v":-0.4},{"k":"q4","t":87.7,"v":0.05},{"k":"q4","t":93,"v":0.05},{"k":"q4","t":93.3,"v":-0.5},{"k":"q4","t":99,"v":-0.5},{"k":"q4","t":99.3,"v":-0.55},{"k":"q4","t":149.4,"v":-0.55},{"k":"q4","t":149.7,"v":0.05},{"k":"q4","t":153,"v":0.05},{"k":"q4","t":153.3,"v":-0.4},{"k":"q4","t":169,"v":-0.4},{"k":"q4","t":169.3,"v":0.05},{"k":"q4","t":177,"v":0.05},{"k":"q4","t":177.3,"v":-0.6},{"k":"q4","t":184,"v":-0.6},{"k":"q4","t":184.3,"v":0.1},{"k":"q4","t":227.6,"v":0.1},{"k":"q4","t":230,"v":-0.55},{"k":"q4","t":249.4,"v":-0.55},{"k":"q4","t":250.6,"v":0},{"k":"q4","t":251.7,"v":-0.65},{"k":"q4","t":300,"v":-0.6},{"k":"q4","t":360,"v":-0.65},
{"k":"q5","t":0,"v":-0.2},{"k":"q5","t":7,"v":-0.2},{"k":"q5","t":7.3,"v":0.2},{"k":"q5","t":34.5,"v":0.2},{"k":"q5","t":34.8,"v":0.3},{"k":"q5","t":77,"v":0.3},{"k":"q5","t":77.3,"v":-0.3},{"k":"q5","t":87.4,"v":-0.3},{"k":"q5","t":87.7,"v":-0.05},{"k":"q5","t":99,"v":-0.05},{"k":"q5","t":99.3,"v":0.45},{"k":"q5","t":149.4,"v":0.45},{"k":"q5","t":149.7,"v":0.3},{"k":"q5","t":169,"v":0.3},{"k":"q5","t":169.3,"v":0},{"k":"q5","t":177,"v":0},{"k":"q5","t":177.3,"v":0.55},{"k":"q5","t":184,"v":0.55},{"k":"q5","t":184.3,"v":0.1},{"k":"q5","t":227.6,"v":0.1},{"k":"q5","t":228,"v":-0.1},{"k":"q5","t":232,"v":-0.1},{"k":"q5","t":232.3,"v":0.25},{"k":"q5","t":248,"v":0.25},{"k":"q5","t":248.3,"v":-0.55},{"k":"q5","t":250.6,"v":-0.55},{"k":"q5","t":251,"v":0.45},{"k":"q5","t":300,"v":0.4},{"k":"q5","t":360,"v":0.45},
{"k":"qd","t":0,"v":0.25},{"k":"qd","t":7,"v":0.25},{"k":"qd","t":7.3,"v":0.6},{"k":"qd","t":34.5,"v":0.6},{"k":"qd","t":34.8,"v":0.9},{"k":"qd","t":77,"v":0.9},{"k":"qd","t":77.3,"v":0.25},{"k":"qd","t":87.4,"v":0.25},{"k":"qd","t":87.7,"v":0},{"k":"qd","t":93,"v":0},{"k":"qd","t":93.3,"v":0.5},{"k":"qd","t":99,"v":0.5},{"k":"qd","t":99.3,"v":1.0},{"k":"qd","t":149.4,"v":1.0},{"k":"qd","t":149.7,"v":0.5},{"k":"qd","t":153,"v":0.5},{"k":"qd","t":153.3,"v":1.1},{"k":"qd","t":169,"v":1.1},{"k":"qd","t":169.3,"v":0.05},{"k":"qd","t":177,"v":0.05},{"k":"qd","t":177.3,"v":1.2},{"k":"qd","t":184,"v":1.2},{"k":"qd","t":184.3,"v":0.25},{"k":"qd","t":227.6,"v":0.25},{"k":"qd","t":228,"v":0.5},{"k":"qd","t":232,"v":0.5},{"k":"qd","t":232.3,"v":1.0},{"k":"qd","t":248,"v":1.0},{"k":"qd","t":248.3,"v":1.45},{"k":"qd","t":253,"v":1.45},{"k":"qd","t":253.3,"v":1.25},{"k":"qd","t":300,"v":1.2},{"k":"qd","t":360,"v":1.25},
{"k":"k1","t":0,"v":-0.25},{"k":"k1","t":18,"v":-0.3},{"k":"k1","t":19.5,"v":-0.9},{"k":"k1","t":22,"v":-0.5},{"k":"k1","t":32,"v":-0.5},{"k":"k1","t":34.5,"v":-0.25},{"k":"k1","t":48,"v":0},{"k":"k1","t":76,"v":0},{"k":"k1","t":78,"v":-0.45},{"k":"k1","t":83,"v":-0.5},{"k":"k1","t":90,"v":-0.6},{"k":"k1","t":96,"v":-0.55},{"k":"k1","t":100,"v":-0.6},{"k":"k1","t":106,"v":-0.45},{"k":"k1","t":110,"v":-0.15},{"k":"k1","t":120,"v":0.05},{"k":"k1","t":195,"v":0.05},{"k":"k1","t":198,"v":0},{"k":"k1","t":230,"v":0},{"k":"k1","t":232,"v":-0.45},{"k":"k1","t":244,"v":-0.45},{"k":"k1","t":247,"v":-0.9},{"k":"k1","t":250,"v":-1.7},{"k":"k1","t":251,"v":-1.0},{"k":"k1","t":253,"v":-0.6},{"k":"k1","t":255,"v":-0.45},{"k":"k1","t":265,"v":-0.25},{"k":"k1","t":300,"v":-0.25},{"k":"k1","t":302,"v":-0.55},{"k":"k1","t":304,"v":-0.25},{"k":"k1","t":360,"v":-0.25},
{"k":"k2","t":0,"v":0.25},{"k":"k2","t":14,"v":0.3},{"k":"k2","t":18,"v":1.0},{"k":"k2","t":20,"v":0.6},{"k":"k2","t":23,"v":0.5},{"k":"k2","t":32,"v":0.4},{"k":"k2","t":34.5,"v":0.25},{"k":"k2","t":53,"v":0},{"k":"k2","t":76,"v":0},{"k":"k2","t":78,"v":0.4},{"k":"k2","t":85,"v":0.6},{"k":"k2","t":90,"v":0.7},{"k":"k2","t":96,"v":0.9},{"k":"k2","t":99,"v":1.0},{"k":"k2","t":103,"v":0.7},{"k":"k2","t":110,"v":0.55},{"k":"k2","t":112,"v":0.15},{"k":"k2","t":120,"v":0},{"k":"k2","t":128,"v":-0.1},{"k":"k2","t":160,"v":-0.1},{"k":"k2","t":161,"v":0.25},{"k":"k2","t":184,"v":0.25},{"k":"k2","t":185,"v":-0.05},{"k":"k2","t":228,"v":-0.05},{"k":"k2","t":230,"v":0.3},{"k":"k2","t":244,"v":0.4},{"k":"k2","t":246,"v":1.0},{"k":"k2","t":249,"v":1.75},{"k":"k2","t":250,"v":2.25},{"k":"k2","t":251,"v":1.3},{"k":"k2","t":253,"v":1.2},{"k":"k2","t":257,"v":0.4},{"k":"k2","t":262,"v":0.1},{"k":"k2","t":300,"v":0.05},{"k":"k2","t":302,"v":0.4},{"k":"k2","t":304,"v":0.05},{"k":"k2","t":360,"v":0.05},
{"k":"k3","t":0,"v":0.05},{"k":"k3","t":18,"v":0},{"k":"k3","t":19.5,"v":-0.55},{"k":"k3","t":22,"v":-0.15},{"k":"k3","t":32,"v":-0.15},{"k":"k3","t":34.5,"v":0},{"k":"k3","t":76,"v":0},{"k":"k3","t":78,"v":-0.2},{"k":"k3","t":87,"v":-0.35},{"k":"k3","t":103,"v":-0.35},{"k":"k3","t":105,"v":-0.05},{"k":"k3","t":120,"v":-0.05},{"k":"k3","t":143,"v":0.2},{"k":"k3","t":161,"v":0.2},{"k":"k3","t":162,"v":0},{"k":"k3","t":193,"v":0},{"k":"k3","t":228,"v":0.05},{"k":"k3","t":232,"v":0},{"k":"k3","t":244,"v":-0.25},{"k":"k3","t":249,"v":-0.9},{"k":"k3","t":251,"v":-0.6},{"k":"k3","t":253,"v":-0.25},{"k":"k3","t":262,"v":0},{"k":"k3","t":276,"v":0.1},{"k":"k3","t":303,"v":0.15},{"k":"k3","t":306,"v":0.2},{"k":"k3","t":360,"v":0.2},
{"k":"k4","t":0,"v":0},{"k":"k4","t":18,"v":0},{"k":"k4","t":19,"v":0.1},{"k":"k4","t":21,"v":0.1},{"k":"k4","t":22,"v":0},{"k":"k4","t":230,"v":0},{"k":"k4","t":232,"v":0.15},{"k":"k4","t":249,"v":0.5},{"k":"k4","t":251,"v":0.2},{"k":"k4","t":360,"v":0.2},
{"k":"k5","t":0,"v":-0.3},{"k":"k5","t":5,"v":-0.2},{"k":"k5","t":10,"v":-0.35},{"k":"k5","t":14,"v":-0.25},{"k":"k5","t":18,"v":-0.4},{"k":"k5","t":22,"v":-0.3},{"k":"k5","t":32,"v":-0.25},{"k":"k5","t":34.5,"v":-0.1},{"k":"k5","t":76,"v":-0.1},{"k":"k5","t":78,"v":-0.25},{"k":"k5","t":85,"v":-0.3},{"k":"k5","t":95,"v":-0.2},{"k":"k5","t":105,"v":-0.3},{"k":"k5","t":110,"v":-0.15},{"k":"k5","t":113,"v":0},{"k":"k5","t":150,"v":0},{"k":"k5","t":161,"v":-0.25},{"k":"k5","t":193,"v":-0.25},{"k":"k5","t":195,"v":-0.1},{"k":"k5","t":228,"v":-0.1},{"k":"k5","t":230,"v":-0.15},{"k":"k5","t":244,"v":-0.1},{"k":"k5","t":248,"v":0.7},{"k":"k5","t":249.5,"v":0.95},{"k":"k5","t":250.5,"v":-0.85},{"k":"k5","t":251.5,"v":0.3},{"k":"k5","t":253,"v":0},{"k":"k5","t":271,"v":-0.05},{"k":"k5","t":276,"v":0.2},{"k":"k5","t":300,"v":0.2},{"k":"k5","t":302,"v":0.45},{"k":"k5","t":322,"v":0.4},{"k":"k5","t":331,"v":0.35},{"k":"k5","t":345,"v":0.3},{"k":"k5","t":360,"v":0.3},
{"k":"kd","t":0,"v":0.3},{"k":"kd","t":5,"v":0.45},{"k":"kd","t":9,"v":0.3},{"k":"kd","t":13,"v":0.5},{"k":"kd","t":18,"v":0.7},{"k":"kd","t":19,"v":1.6},{"k":"kd","t":21,"v":0.8},{"k":"kd","t":23,"v":1.1},{"k":"kd","t":26,"v":0.6},{"k":"kd","t":32,"v":0.4},{"k":"kd","t":53,"v":0.2},{"k":"kd","t":76,"v":0.2},{"k":"kd","t":78,"v":0.5},{"k":"kd","t":82,"v":0.8},{"k":"kd","t":85,"v":1.1},{"k":"kd","t":90,"v":1.3},{"k":"kd","t":94,"v":1.4},{"k":"kd","t":99,"v":1.7},{"k":"kd","t":103,"v":1.1},{"k":"kd","t":108,"v":0.8},{"k":"kd","t":113,"v":0.4},{"k":"kd","t":120,"v":0.05},{"k":"kd","t":138,"v":0.1},{"k":"kd","t":161,"v":0.3},{"k":"kd","t":170,"v":0.45},{"k":"kd","t":178,"v":0.4},{"k":"kd","t":184,"v":0.8},{"k":"kd","t":186,"v":0.3},{"k":"kd","t":195,"v":0.15},{"k":"kd","t":227,"v":0.15},{"k":"kd","t":230,"v":0.5},{"k":"kd","t":240,"v":0.6},{"k":"kd","t":246,"v":1.1},{"k":"kd","t":249,"v":2.4},{"k":"kd","t":250,"v":2.7},{"k":"kd","t":251,"v":1.8},{"k":"kd","t":253,"v":1.4},{"k":"kd","t":258,"v":0.8},{"k":"kd","t":265,"v":0.3},{"k":"kd","t":300,"v":0.2},{"k":"kd","t":302,"v":0.5},{"k":"kd","t":304,"v":0.3},{"k":"kd","t":330,"v":0.35},{"k":"kd","t":345,"v":0.3},{"k":"kd","t":355,"v":0.6},{"k":"kd","t":360,"v":0.6}
]
},
"vconcat":[
{"width":999,"height":75,"view":{"stroke":"black"},"layer":[
 {"data":{"name":"hr"},"mark":"line","encoding":{"x":{"field":"t","type":"quantitative","scale":{"domain":[0,360]},"axis":{"values":[0,30,60,90,120,150,180,210,240,270,300,330],"tickCount":20,"title":["Record:","s30671"],"titleY":-72.9,"titleLineHeight":10}},"y":{"field":"v","type":"quantitative","scale":{"domain":[0,200]},"axis":{"values":[40,80,120,160],"tickCount":10,"format":"d","labelOverlap":false,"title":["Heart","Rate [bpm]"],"titleY":31.1,"titleLineHeight":10.6}}}},
 {"data":{"values":[{}]},"mark":"rule","encoding":{"x":{"datum":-34.59,"type":"quantitative","scale":{"domain":[0,360]}},"x2":{"datum":-8.3},"y":{"datum":39,"type":"quantitative","scale":{"domain":[0,200]}}}}
]},
{"width":999,"height":13,"layer":[
 {"data":{"name":"ep"},"transform":[{"filter":"datum.p=='c'"}],"mark":{"type":"rect","filled":false,"color":"black","strokeWidth":1},"encoding":{"x":{"field":"a","type":"quantitative","scale":{"domain":[0,360]},"axis":{"values":[0,30,60,90,120,150,180,210,240,270,300,330],"tickCount":20,"title":null}},"x2":{"field":"b"},"y":{"datum":0,"type":"quantitative","scale":{"domain":[-13,0]},"axis":{"values":[],"title":"Combined Epis.","titleY":-4.1}},"y2":{"datum":-3.5}}},
 {"data":{"values":[{}]},"mark":"rule","encoding":{"x":{"datum":-34.59,"type":"quantitative","scale":{"domain":[0,360]}},"x2":{"datum":-1.08},"y":{"datum":-13,"type":"quantitative","scale":{"domain":[-13,0]}}}}
]},
{"width":999,"height":55,"layer":[
 {"data":{"name":"r0"},"mark":{"type":"line","strokeWidth":1.5},"encoding":{"x":{"field":"t","type":"quantitative","scale":{"domain":[0,360]},"axis":{"values":[0,30,60,90,120,150,180,210,240,270,300,330],"tickCount":20,"title":"ST Reference","titleColor":"#ff0000","titleY":-25.3}},"y":{"field":"v","type":"quantitative","scale":{"domain":[-175,375]},"axis":{"values":[-100,0,100,200],"tickCount":10,"labelOverlap":false,"title":["Lead 0:","ST Level"],"titleY":5.7,"titleLineHeight":12.2}},"color":{"field":"k","type":"nominal","scale":{"domain":["r","b"],"range":["#ff0000","#000000"]},"legend":null},"detail":{"field":"g","type":"nominal"}}},
 {"data":{"name":"l0"},"mark":"line","encoding":{"x":{"field":"t","type":"quantitative","scale":{"domain":[0,360]}},"y":{"field":"v","type":"quantitative","scale":{"domain":[-175,375]}}}}
]},
{"width":999,"height":46,"layer":[
 {"data":{"values":[{}]},"mark":"rule","encoding":{"x":{"datum":0,"type":"quantitative","scale":{"domain":[0,360]}},"x2":{"datum":360},"y":{"datum":0,"type":"quantitative","scale":{"domain":[-290,170]}}}},
 {"data":{"name":"d0"},"mark":"line","encoding":{"x":{"field":"t","type":"quantitative","scale":{"domain":[0,360]},"axis":{"values":[0,30,60,90,120,150,180,210,240,270,300,330],"tickCount":20,"title":null}},"y":{"field":"v","type":"quantitative","scale":{"domain":[-290,170]},"axis":{"values":[-200,-100,0,100],"tickCount":10,"labelOverlap":false,"title":["[uV]","ST Deviation"],"titleY":-14.6,"titleLineHeight":22.7}}}}
]},
{"width":999,"height":11,"layer":[
 {"data":{"values":[{}]},"mark":"rule","encoding":{"x":{"datum":0,"type":"quantitative","scale":{"domain":[0,360]},"axis":{"values":[0,30,60,90,120,150,180,210,240,270,300,330],"tickCount":20,"title":null}},"x2":{"datum":360},"y":{"datum":0,"type":"quantitative","scale":{"domain":[-11,0]},"axis":{"values":[],"title":["Is/RR","Ax/CC"],"titleY":-3.9,"titleLineHeight":11}}}},
 {"data":{"values":[{}]},"mark":"rule","encoding":{"x":{"datum":0,"type":"quantitative","scale":{"domain":[0,360]}},"x2":{"datum":360},"y":{"datum":-11,"type":"quantitative","scale":{"domain":[-11,0]}}}},
 {"data":{"name":"ep"},"transform":[{"filter":"datum.p=='0'"}],"mark":{"type":"rect","filled":false,"color":"black","strokeWidth":1},"encoding":{"x":{"field":"a","type":"quantitative","scale":{"domain":[0,360]}},"x2":{"field":"b"},"y":{"datum":0,"type":"quantitative","scale":{"domain":[-11,0]}},"y2":{"datum":-3.5}}}
]},
{"width":999,"height":48,"layer":[
 {"data":{"values":[{}]},"mark":"rule","encoding":{"x":{"datum":0,"type":"quantitative","scale":{"domain":[0,360]}},"x2":{"datum":360},"y":{"datum":0,"type":"quantitative","scale":{"domain":[-127,353]}}}},
 {"data":{"values":[{}]},"mark":"rule","encoding":{"x":{"datum":-34.59,"type":"quantitative","scale":{"domain":[0,360]}},"x2":{"datum":-1.08},"y":{"datum":-127,"type":"quantitative","scale":{"domain":[-127,353]}}}},
 {"data":{"name":"s0"},"mark":"line","encoding":{"x":{"field":"t","type":"quantitative","scale":{"domain":[0,360]},"axis":{"values":[0,30,60,90,120,150,180,210,240,270,300,330],"tickCount":20,"title":null}},"y":{"field":"v","type":"quantitative","scale":{"domain":[-127,353]},"axis":{"values":[0,100,200],"tickCount":10,"labelOverlap":false,"title":"ST Slope","titleY":26.4}}}}
]},
{"width":999,"height":55,"layer":[
 {"data":{"name":"r1"},"mark":{"type":"line","strokeWidth":1.5},"encoding":{"x":{"field":"t","type":"quantitative","scale":{"domain":[0,360]},"axis":{"values":[0,30,60,90,120,150,180,210,240,270,300,330],"tickCount":20,"title":"ST Reference","titleColor":"#ff0000","titleY":-25.3}},"y":{"field":"v","type":"quantitative","scale":{"domain":[-175,375]},"axis":{"values":[-100,0,100,200],"tickCount":10,"labelOverlap":false,"title":["Lead 1:","ST Level"],"titleY":5.7,"titleLineHeight":12.2}},"color":{"field":"k","type":"nominal","scale":{"domain":["r","b"],"range":["#ff0000","#000000"]},"legend":null},"detail":{"field":"g","type":"nominal"}}},
 {"data":{"name":"l1"},"mark":"line","encoding":{"x":{"field":"t","type":"quantitative","scale":{"domain":[0,360]}},"y":{"field":"v","type":"quantitative","scale":{"domain":[-175,375]}}}}
]},
{"width":999,"height":46,"layer":[
 {"data":{"values":[{}]},"mark":"rule","encoding":{"x":{"datum":0,"type":"quantitative","scale":{"domain":[0,360]}},"x2":{"datum":360},"y":{"datum":0,"type":"quantitative","scale":{"domain":[-290,170]}}}},
 {"data":{"name":"d1"},"mark":"line","encoding":{"x":{"field":"t","type":"quantitative","scale":{"domain":[0,360]},"axis":{"values":[0,30,60,90,120,150,180,210,240,270,300,330],"tickCount":20,"title":null}},"y":{"field":"v","type":"quantitative","scale":{"domain":[-290,170]},"axis":{"values":[-200,-100,0,100],"tickCount":10,"labelOverlap":false,"title":["[uV]","ST Deviation"],"titleY":-14.6,"titleLineHeight":22.7}}}}
]},
{"width":999,"height":11,"layer":[
 {"data":{"values":[{}]},"mark":"rule","encoding":{"x":{"datum":0,"type":"quantitative","scale":{"domain":[0,360]},"axis":{"values":[0,30,60,90,120,150,180,210,240,270,300,330],"tickCount":20,"title":null}},"x2":{"datum":360},"y":{"datum":0,"type":"quantitative","scale":{"domain":[-11,0]},"axis":{"values":[],"title":["Is/RR","Ax/CC"],"titleY":-3.9,"titleLineHeight":11}}}},
 {"data":{"values":[{}]},"mark":"rule","encoding":{"x":{"datum":0,"type":"quantitative","scale":{"domain":[0,360]}},"x2":{"datum":360},"y":{"datum":-11,"type":"quantitative","scale":{"domain":[-11,0]}}}},
 {"data":{"name":"ep"},"transform":[{"filter":"datum.p=='1'"}],"mark":{"type":"rect","filled":false,"color":"black","strokeWidth":1},"encoding":{"x":{"field":"a","type":"quantitative","scale":{"domain":[0,360]}},"x2":{"field":"b"},"y":{"datum":0,"type":"quantitative","scale":{"domain":[-11,0]}},"y2":{"datum":-3.5}}}
]},
{"width":999,"height":48,"layer":[
 {"data":{"values":[{}]},"mark":"rule","encoding":{"x":{"datum":0,"type":"quantitative","scale":{"domain":[0,360]}},"x2":{"datum":360},"y":{"datum":0,"type":"quantitative","scale":{"domain":[-127,353]}}}},
 {"data":{"values":[{}]},"mark":"rule","encoding":{"x":{"datum":-34.59,"type":"quantitative","scale":{"domain":[0,360]}},"x2":{"datum":-1.08},"y":{"datum":-127,"type":"quantitative","scale":{"domain":[-127,353]}}}},
 {"data":{"name":"s1"},"mark":"line","encoding":{"x":{"field":"t","type":"quantitative","scale":{"domain":[0,360]},"axis":{"values":[0,30,60,90,120,150,180,210,240,270,300,330],"tickCount":20,"title":null}},"y":{"field":"v","type":"quantitative","scale":{"domain":[-127,353]},"axis":{"values":[0,100,200],"tickCount":10,"labelOverlap":false,"title":"ST Slope","titleY":26.4}}}}
]},
{"width":999,"height":55,"layer":[
 {"data":{"name":"r2"},"mark":{"type":"line","strokeWidth":1.5},"encoding":{"x":{"field":"t","type":"quantitative","scale":{"domain":[0,360]},"axis":{"values":[0,30,60,90,120,150,180,210,240,270,300,330],"tickCount":20,"title":"ST Reference","titleColor":"#ff0000","titleY":-25.3}},"y":{"field":"v","type":"quantitative","scale":{"domain":[-175,375]},"axis":{"values":[-100,0,100,200],"tickCount":10,"labelOverlap":false,"title":["Lead 2:","ST Level"],"titleY":5.7,"titleLineHeight":12.2}},"color":{"field":"k","type":"nominal","scale":{"domain":["r","b"],"range":["#ff0000","#000000"]},"legend":null},"detail":{"field":"g","type":"nominal"}}},
 {"data":{"name":"l2"},"mark":"line","encoding":{"x":{"field":"t","type":"quantitative","scale":{"domain":[0,360]}},"y":{"field":"v","type":"quantitative","scale":{"domain":[-175,375]}}}}
]},
{"width":999,"height":46,"layer":[
 {"data":{"values":[{}]},"mark":"rule","encoding":{"x":{"datum":0,"type":"quantitative","scale":{"domain":[0,360]}},"x2":{"datum":360},"y":{"datum":0,"type":"quantitative","scale":{"domain":[-290,170]}}}},
 {"data":{"name":"d2"},"mark":"line","encoding":{"x":{"field":"t","type":"quantitative","scale":{"domain":[0,360]},"axis":{"values":[0,30,60,90,120,150,180,210,240,270,300,330],"tickCount":20,"title":null}},"y":{"field":"v","type":"quantitative","scale":{"domain":[-290,170]},"axis":{"values":[-200,-100,0,100],"tickCount":10,"labelOverlap":false,"title":["[uV]","ST Deviation"],"titleY":-14.6,"titleLineHeight":22.7}}}}
]},
{"width":999,"height":11,"layer":[
 {"data":{"values":[{}]},"mark":"rule","encoding":{"x":{"datum":0,"type":"quantitative","scale":{"domain":[0,360]},"axis":{"values":[0,30,60,90,120,150,180,210,240,270,300,330],"tickCount":20,"title":null}},"x2":{"datum":360},"y":{"datum":0,"type":"quantitative","scale":{"domain":[-11,0]},"axis":{"values":[],"title":["Is/RR","Ax/CC"],"titleY":-3.9,"titleLineHeight":11}}}},
 {"data":{"values":[{}]},"mark":"rule","encoding":{"x":{"datum":0,"type":"quantitative","scale":{"domain":[0,360]}},"x2":{"datum":360},"y":{"datum":-11,"type":"quantitative","scale":{"domain":[-11,0]}}}},
 {"data":{"name":"ep"},"transform":[{"filter":"datum.p=='2'"}],"mark":{"type":"rect","filled":false,"color":"black","strokeWidth":1},"encoding":{"x":{"field":"a","type":"quantitative","scale":{"domain":[0,360]}},"x2":{"field":"b"},"y":{"datum":0,"type":"quantitative","scale":{"domain":[-11,0]}},"y2":{"datum":-3.5}}}
]},
{"width":999,"height":48,"layer":[
 {"data":{"values":[{}]},"mark":"rule","encoding":{"x":{"datum":0,"type":"quantitative","scale":{"domain":[0,360]}},"x2":{"datum":360},"y":{"datum":0,"type":"quantitative","scale":{"domain":[-127,353]}}}},
 {"data":{"values":[{}]},"mark":"rule","encoding":{"x":{"datum":-34.59,"type":"quantitative","scale":{"domain":[0,360]}},"x2":{"datum":-1.08},"y":{"datum":-127,"type":"quantitative","scale":{"domain":[-127,353]}}}},
 {"data":{"name":"s2"},"mark":"line","encoding":{"x":{"field":"t","type":"quantitative","scale":{"domain":[0,360]},"axis":{"values":[0,30,60,90,120,150,180,210,240,270,300,330],"tickCount":20,"title":null}},"y":{"field":"v","type":"quantitative","scale":{"domain":[-127,353]},"axis":{"values":[0,100,200],"tickCount":10,"labelOverlap":false,"title":"ST Slope","titleY":26.4}}}}
]},
{"width":999,"height":17,"data":{"values":[{}]},"mark":"rule","encoding":{"x":{"datum":0,"type":"quantitative","scale":{"domain":[0,360]},"axis":{"values":[0,30,60,90,120,150,180,210,240,270,300,330],"tickCount":20,"title":null}},"x2":{"datum":360},"y":{"datum":-17,"type":"quantitative","scale":{"domain":[-17,0]},"axis":{"values":[],"title":"Unread/Noise 10","titleY":8.4}}}},
{"width":999,"height":15,"data":{"values":[{}]},"mark":"rule","encoding":{"x":{"datum":0,"type":"quantitative","scale":{"domain":[0,360]},"axis":{"values":[0,30,60,90,120,150,180,210,240,270,300,330],"tickCount":20,"title":null}},"x2":{"datum":360},"y":{"datum":-15,"type":"quantitative","scale":{"domain":[-15,0]},"axis":{"values":[],"title":"Unread/Noise 11","titleY":6.4}}}},
{"width":999,"height":15,"data":{"values":[{}]},"mark":"rule","encoding":{"x":{"datum":0,"type":"quantitative","scale":{"domain":[0,360]},"axis":{"values":[0,30,60,90,120,150,180,210,240,270,300,330],"tickCount":20,"title":null}},"x2":{"datum":360},"y":{"datum":-15,"type":"quantitative","scale":{"domain":[-15,0]},"axis":{"values":[],"title":"Unread/Noise 12","titleY":6.4}}}},
{"width":999,"height":26,"layer":[
 {"data":{"values":[{}]},"mark":"rule","encoding":{"x":{"datum":0,"type":"quantitative","scale":{"domain":[0,360]},"axis":{"values":[0,30,60,90,120,150,180,210,240,270,300,330],"tickCount":20,"title":null}},"x2":{"datum":360},"y":{"datum":-15.7,"type":"quantitative","scale":{"domain":[-26,0]},"axis":{"values":[],"title":"Abnormal Beats","titleY":6.4}}}},
 {"data":{"name":"ab"},"mark":"rule","encoding":{"x":{"field":"t","type":"quantitative","scale":{"domain":[0,360]}},"y":{"datum":-15.7,"type":"quantitative","scale":{"domain":[-26,0]}},"y2":{"datum":-20.5}}},
 {"data":{"values":[{}]},"mark":"rule","encoding":{"x":{"datum":-34.59,"type":"quantitative","scale":{"domain":[0,360]}},"x2":{"datum":-4.3},"y":{"datum":-26,"type":"quantitative","scale":{"domain":[-26,0]}}}}
]},
{"width":999,"height":25,"layer":[
 {"data":{"values":[{}]},"mark":"rule","encoding":{"x":{"datum":0,"type":"quantitative","scale":{"domain":[0,360]}},"x2":{"datum":360},"y":{"datum":0,"type":"quantitative","scale":{"domain":[0,4.6]}}}},
 {"data":{"name":"kl"},"transform":[{"filter":"datum.k=='q1'"}],"mark":"line","encoding":{"x":{"field":"t","type":"quantitative","scale":{"domain":[0,360]},"axis":{"values":[0,30,60,90,120,150,180,210,240,270,300,330],"tickCount":20,"title":null}},"y":{"field":"v","type":"quantitative","scale":{"domain":[0,4.6]},"axis":{"values":[0,2],"format":"d","labelOverlap":false,"title":"QRS KL1 [std]","titleY":15.7}}}}
]},
{"width":999,"height":25,"layer":[
 {"data":{"values":[{}]},"mark":"rule","encoding":{"x":{"datum":0,"type":"quantitative","scale":{"domain":[0,360]}},"x2":{"datum":360},"y":{"datum":0,"type":"quantitative","scale":{"domain":[0,4.6]}}}},
 {"data":{"name":"kl"},"transform":[{"filter":"datum.k=='q2'"}],"mark":"line","encoding":{"x":{"field":"t","type":"quantitative","scale":{"domain":[0,360]},"axis":{"values":[0,30,60,90,120,150,180,210,240,270,300,330],"tickCount":20,"title":null}},"y":{"field":"v","type":"quantitative","scale":{"domain":[0,4.6]},"axis":{"values":[0,2],"format":"d","labelOverlap":false,"title":"QRS KL2","titleY":15.7}}}}
]},
{"width":999,"height":25,"layer":[
 {"data":{"values":[{}]},"mark":"rule","encoding":{"x":{"datum":0,"type":"quantitative","scale":{"domain":[0,360]}},"x2":{"datum":360},"y":{"datum":0,"type":"quantitative","scale":{"domain":[0,4.6]}}}},
 {"data":{"name":"kl"},"transform":[{"filter":"datum.k=='q3'"}],"mark":"line","encoding":{"x":{"field":"t","type":"quantitative","scale":{"domain":[0,360]},"axis":{"values":[0,30,60,90,120,150,180,210,240,270,300,330],"tickCount":20,"title":null}},"y":{"field":"v","type":"quantitative","scale":{"domain":[0,4.6]},"axis":{"values":[0,2],"format":"d","labelOverlap":false,"title":"QRS KL3","titleY":15.7}}}}
]},
{"width":999,"height":25,"layer":[
 {"data":{"values":[{}]},"mark":"rule","encoding":{"x":{"datum":0,"type":"quantitative","scale":{"domain":[0,360]}},"x2":{"datum":360},"y":{"datum":0,"type":"quantitative","scale":{"domain":[0,4.6]}}}},
 {"data":{"name":"kl"},"transform":[{"filter":"datum.k=='q4'"}],"mark":"line","encoding":{"x":{"field":"t","type":"quantitative","scale":{"domain":[0,360]},"axis":{"values":[0,30,60,90,120,150,180,210,240,270,300,330],"tickCount":20,"title":null}},"y":{"field":"v","type":"quantitative","scale":{"domain":[0,4.6]},"axis":{"values":[0,2],"format":"d","labelOverlap":false,"title":"QRS KL4","titleY":15.7}}}}
]},
{"width":999,"height":25,"layer":[
 {"data":{"values":[{}]},"mark":"rule","encoding":{"x":{"datum":0,"type":"quantitative","scale":{"domain":[0,360]}},"x2":{"datum":360},"y":{"datum":0,"type":"quantitative","scale":{"domain":[0,4.6]}}}},
 {"data":{"name":"kl"},"transform":[{"filter":"datum.k=='q5'"}],"mark":"line","encoding":{"x":{"field":"t","type":"quantitative","scale":{"domain":[0,360]},"axis":{"values":[0,30,60,90,120,150,180,210,240,270,300,330],"tickCount":20,"title":null}},"y":{"field":"v","type":"quantitative","scale":{"domain":[0,4.6]},"axis":{"values":[0,2],"format":"d","labelOverlap":false,"title":"QRS KL5","titleY":15.7}}}}
]},
{"width":999,"height":25,"layer":[
 {"data":{"values":[{}]},"mark":"rule","encoding":{"x":{"datum":0,"type":"quantitative","scale":{"domain":[0,360]}},"x2":{"datum":360},"y":{"datum":0,"type":"quantitative","scale":{"domain":[0,4.6]}}}},
 {"data":{"name":"kl"},"transform":[{"filter":"datum.k=='qd'"}],"mark":"line","encoding":{"x":{"field":"t","type":"quantitative","scale":{"domain":[0,360]},"axis":{"values":[0,30,60,90,120,150,180,210,240,270,300,330],"tickCount":20,"title":null}},"y":{"field":"v","type":"quantitative","scale":{"domain":[0,4.6]},"axis":{"values":[0,2],"format":"d","labelOverlap":false,"title":"QRS Distance","titleY":15.7}}}}
]},
{"width":999,"height":25,"layer":[
 {"data":{"values":[{}]},"mark":"rule","encoding":{"x":{"datum":0,"type":"quantitative","scale":{"domain":[0,360]}},"x2":{"datum":360},"y":{"datum":0,"type":"quantitative","scale":{"domain":[0,4.6]}}}},
 {"data":{"name":"kl"},"transform":[{"filter":"datum.k=='k1'"}],"mark":"line","encoding":{"x":{"field":"t","type":"quantitative","scale":{"domain":[0,360]},"axis":{"values":[0,30,60,90,120,150,180,210,240,270,300,330],"tickCount":20,"title":null}},"y":{"field":"v","type":"quantitative","scale":{"domain":[0,4.6]},"axis":{"values":[0,2],"format":"d","labelOverlap":false,"title":"ST KL1 [std]","titleY":15.7}}}}
]},
{"width":999,"height":25,"layer":[
 {"data":{"values":[{}]},"mark":"rule","encoding":{"x":{"datum":0,"type":"quantitative","scale":{"domain":[0,360]}},"x2":{"datum":360},"y":{"datum":0,"type":"quantitative","scale":{"domain":[0,4.6]}}}},
 {"data":{"name":"kl"},"transform":[{"filter":"datum.k=='k2'"}],"mark":"line","encoding":{"x":{"field":"t","type":"quantitative","scale":{"domain":[0,360]},"axis":{"values":[0,30,60,90,120,150,180,210,240,270,300,330],"tickCount":20,"title":null}},"y":{"field":"v","type":"quantitative","scale":{"domain":[0,4.6]},"axis":{"values":[0,2],"format":"d","labelOverlap":false,"title":"ST KL2","titleY":15.7}}}}
]},
{"width":999,"height":25,"layer":[
 {"data":{"values":[{}]},"mark":"rule","encoding":{"x":{"datum":0,"type":"quantitative","scale":{"domain":[0,360]}},"x2":{"datum":360},"y":{"datum":0,"type":"quantitative","scale":{"domain":[0,4.6]}}}},
 {"data":{"name":"kl"},"transform":[{"filter":"datum.k=='k3'"}],"mark":"line","encoding":{"x":{"field":"t","type":"quantitative","scale":{"domain":[0,360]},"axis":{"values":[0,30,60,90,120,150,180,210,240,270,300,330],"tickCount":20,"title":null}},"y":{"field":"v","type":"quantitative","scale":{"domain":[0,4.6]},"axis":{"values":[0,2],"format":"d","labelOverlap":false,"title":"ST KL3","titleY":15.7}}}}
]},
{"width":999,"height":25,"layer":[
 {"data":{"values":[{}]},"mark":"rule","encoding":{"x":{"datum":0,"type":"quantitative","scale":{"domain":[0,360]}},"x2":{"datum":360},"y":{"datum":0,"type":"quantitative","scale":{"domain":[0,4.6]}}}},
 {"data":{"name":"kl"},"transform":[{"filter":"datum.k=='k4'"}],"mark":"line","encoding":{"x":{"field":"t","type":"quantitative","scale":{"domain":[0,360]},"axis":{"values":[0,30,60,90,120,150,180,210,240,270,300,330],"tickCount":20,"title":null}},"y":{"field":"v","type":"quantitative","scale":{"domain":[0,4.6]},"axis":{"values":[0,2],"format":"d","labelOverlap":false,"title":"ST KL4","titleY":15.7}}}}
]},
{"width":999,"height":25,"layer":[
 {"data":{"values":[{}]},"mark":"rule","encoding":{"x":{"datum":0,"type":"quantitative","scale":{"domain":[0,360]}},"x2":{"datum":360},"y":{"datum":0,"type":"quantitative","scale":{"domain":[0,4.6]}}}},
 {"data":{"name":"kl"},"transform":[{"filter":"datum.k=='k5'"}],"mark":"line","encoding":{"x":{"field":"t","type":"quantitative","scale":{"domain":[0,360]},"axis":{"values":[0,30,60,90,120,150,180,210,240,270,300,330],"tickCount":20,"title":null}},"y":{"field":"v","type":"quantitative","scale":{"domain":[0,4.6]},"axis":{"values":[0,2],"format":"d","labelOverlap":false,"title":"ST KL5","titleY":15.7}}}}
]},
{"width":999,"height":25,"layer":[
 {"data":{"values":[{}]},"mark":"rule","encoding":{"x":{"datum":0,"type":"quantitative","scale":{"domain":[0,360]}},"x2":{"datum":360},"y":{"datum":0,"type":"quantitative","scale":{"domain":[0,4.6]}}}},
 {"data":{"values":[{}]},"mark":"rule","encoding":{"x":{"datum":-34.59,"type":"quantitative","scale":{"domain":[0,360]}},"x2":{"datum":-5.05},"y":{"datum":-0.87,"type":"quantitative","scale":{"domain":[0,4.6]}}}},
 {"data":{"name":"kl"},"transform":[{"filter":"datum.k=='kd'"}],"mark":"line","encoding":{"x":{"field":"t","type":"quantitative","scale":{"domain":[0,360]},"axis":{"values":[0,30,60,90,120,150,180,210,240,270,300,330],"tickCount":20,"labels":true,"labelExpr":"timeFormat(datetime(2000,0,1,15,datum.value,0),'%H:%M:%S')","labelAlign":"left","labelBaseline":"top","labelPadding":3,"labelFlush":false,"ticks":true,"tickSize":16,"tickDash":[1,4],"title":["Time","[hh:mm:ss]"],"titleY":6.7,"titleLineHeight":9.4}},"y":{"field":"v","type":"quantitative","scale":{"domain":[0,4.6]},"axis":{"values":[0,2],"format":"d","labelOverlap":false,"title":"ST Distance","titleY":15.7}}}}
]}
],
"config":{
 "font":"DejaVu Sans Mono",
 "view":{"stroke":null},
 "line":{"color":"black","strokeWidth":1},
 "rule":{"color":"black","strokeWidth":1},
 "axis":{"labelFont":"DejaVu Sans Mono","labelFontSize":10,"labelColor":"black","titleFont":"DejaVu Sans Mono","titleFontSize":10,"titleFontWeight":"normal","titleColor":"black","titleAngle":0,"titleAlign":"left","titleBaseline":"top","titleX":-95,"gridColor":"black","gridOpacity":1,"gridWidth":1,"gridDash":[1,4],"domainColor":"black","domainWidth":1,"tickColor":"black"},
 "axisX":{"labels":false,"ticks":false,"domain":false,"grid":true},
 "axisY":{"ticks":false,"tickSize":0,"labelPadding":2,"labelOverlap":false,"labelBound":false,"labelFlush":false,"grid":true,"domain":true}
}
}
